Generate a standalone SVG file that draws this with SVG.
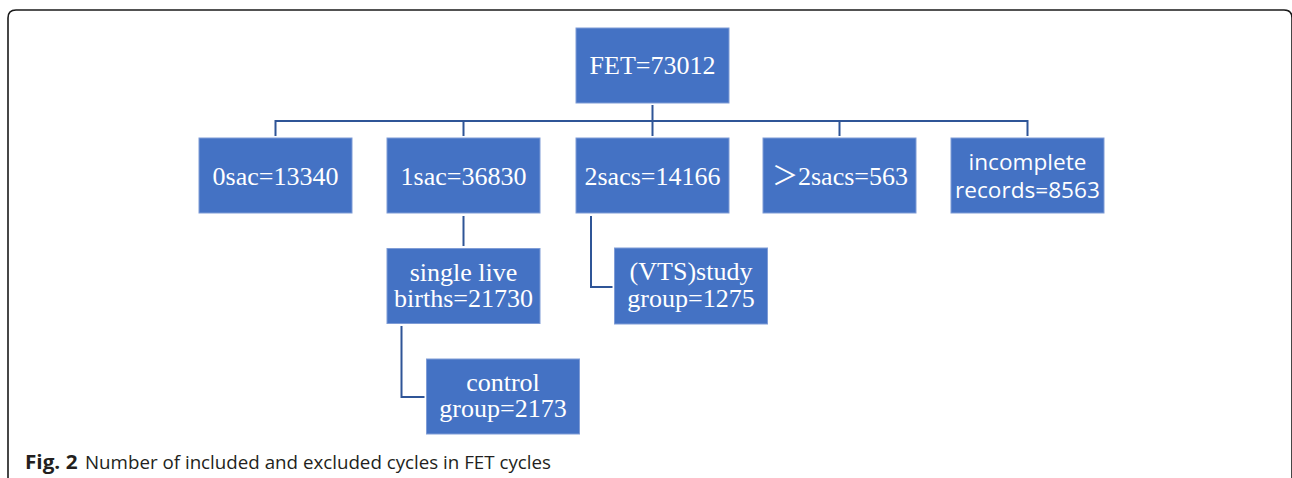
<svg xmlns="http://www.w3.org/2000/svg" width="1292" height="478" viewBox="0 0 1292 478">
<style>
.box{fill:#4472C4;stroke:#7F9CD6;stroke-width:1}
.t{font-family:"Liberation Serif","Times New Roman",serif;font-size:26px;fill:#ffffff;text-anchor:middle}
.s{font-family:"Open Sans","Liberation Sans",sans-serif;font-size:22.6px;fill:#ffffff;text-anchor:middle}
.c{fill:none;stroke:#2F5597;stroke-width:2}
.cap{font-family:"Open Sans","Liberation Sans",sans-serif;font-size:19px;fill:#231f20}
</style>
<rect width="1292" height="478" fill="#ffffff"/>
<path d="M8 478 V18 Q8 10 16 10 H1284 Q1292 10 1292 18 V478" fill="none" stroke="#1a1a1a" stroke-width="1.6"/>
<g id="connectors">
<path class="c" d="M652.5 105 V121"/>
<path class="c" d="M275.5 136 V121 H1027.5 V136"/>
<path class="c" d="M463.5 121 V136"/>
<path class="c" d="M652.5 121 V136"/>
<path class="c" d="M839.5 121 V136"/>
<path class="c" d="M463.5 216 V246"/>
<path class="c" d="M591 216 V287 H612.5"/>
<path class="c" d="M401.5 326 V397 H424.5"/>
</g>
<g id="fet"><rect class="box" x="576" y="28" width="153" height="75"/><text class="t" x="652.5" y="74">FET=73012</text></g>
<g id="sac0"><rect class="box" x="199" y="138" width="153" height="75"/><text class="t" x="275.5" y="184.5">0sac=13340</text></g>
<g id="sac1"><rect class="box" x="387" y="138" width="153" height="75"/><text class="t" x="463.5" y="184.5">1sac=36830</text></g>
<g id="sacs2"><rect class="box" x="576" y="138" width="153" height="75"/><text class="t" x="652.5" y="184.5">2sacs=14166</text></g>
<g id="sacsgt2"><rect class="box" x="763" y="138" width="153" height="75"/><text class="t" x="840" y="184.5" style="font-family:'Liberation Serif','Noto Sans CJK SC',serif">＞2sacs=563</text></g>
<g id="incomplete"><rect class="box" x="951" y="138" width="153" height="75"/><text class="s" x="1027.5" y="169.5">incomplete</text><text class="s" x="1027.5" y="197.5">records=8563</text></g>
<g id="single"><rect class="box" x="387" y="248.5" width="153" height="75"/><text class="t" x="463.5" y="281">single live</text><text class="t" x="463.5" y="307">births=21730</text></g>
<g id="vts"><rect class="box" x="614.5" y="248" width="153" height="76"/><text class="t" x="691" y="280">(VTS)study</text><text class="t" x="691" y="306.5">group=1275</text></g>
<g id="control"><rect class="box" x="426.5" y="359" width="153" height="75"/><text class="t" x="503" y="391">control</text><text class="t" x="503" y="417">group=2173</text></g>
<text class="cap" x="25" y="469" font-weight="bold" textLength="52.5" lengthAdjust="spacingAndGlyphs">Fig. 2</text>
<text class="cap" x="85" y="469" textLength="466" lengthAdjust="spacingAndGlyphs">Number of included and excluded cycles in FET cycles</text>
</svg>
